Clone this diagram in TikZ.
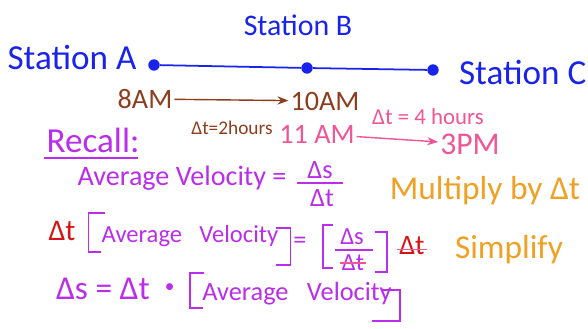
\documentclass[tikz,border=0pt]{standalone}
\usepackage{fontspec}
\setmainfont{Carlito}
\usepackage{xcolor}
\usetikzlibrary{positioning,arrows.meta,calc}

\definecolor{inkblue}{RGB}{25,35,235}
\definecolor{inkbrown}{RGB}{140,62,30}
\definecolor{inkpink}{RGB}{240,85,150}
\definecolor{inkpurple}{RGB}{185,45,235}
\definecolor{inkorange}{RGB}{240,160,35}
\definecolor{inkred}{RGB}{215,20,20}

\begin{document}
\begin{tikzpicture}[x=0.02cm, y=-0.02cm,
  hand/.style={inner sep=1pt, font=\fontsize{#1}{#1}\selectfont},
  hand/.default=15,
  stn/.style={hand=#1, text=inkblue},
  dot/.style={circle, fill=inkblue, inner sep=0pt, minimum size=6.5pt},
  arr/.style={-{Stealth[length=2.2mm]}, line width=0.8pt},
  brk/.style={draw=inkpurple, line width=1pt},
  bar/.style={line width=0.9pt},
]
  \useasboundingbox (0,0) rectangle (588,328);

  % the line with three stations
  \node[dot] (dA) at (154,65) {};
  \node[dot] (dB) at (307,68) {};
  \node[dot] (dC) at (433,70) {};
  \draw[inkblue, line width=1pt] (dA) -- (dB) -- (dC);
  \node[stn=20] (stA) at (72,57) {Station A};
  \node[stn=17] (stB) at (298,25) {Station B};
  \node[stn=20, anchor=west] (stC) at (457,72) {Station C};

  % times
  \node[hand=16, text=inkbrown] (t8) at (145,99) {8AM};
  \node[hand=16, text=inkbrown] (t10) at (325,101) {10AM};
  \draw[arr, inkbrown] (t8) -- (t10);
  \node[hand=11, text=inkbrown] (dt2) at (232,128) {Δt=2hours};
  \node[hand=16, text=inkpink] (t11) at (317,134) {11 AM};
  \node[hand=18, text=inkpink] (t3) at (470,144) {3PM};
  \draw[arr, inkpink] (t11) -- (t3);
  \node[hand=13, text=inkpink] (dt4) at (428,117) {Δt = 4 hours};

  % recall
  \node[hand=20, text=inkpurple] (rec) at (93,140) {Recall:};
  \draw[bar, inkpurple] ([xshift=0pt,yshift=-2pt]rec.south west) -- ([xshift=-2pt,yshift=-2pt]rec.south east);
  \node[hand=16, text=inkpurple] (avg) at (182,178) {Average Velocity =};
  \node[hand=15, text=inkpurple] (ds1) at (320,170) {Δs};
  \node[hand=15, text=inkpurple] (dt1) at (322,198) {Δt};
  \draw[bar, inkpurple] (297,183) -- (343,183);
  \node[hand=19, text=inkorange] (mul) at (485,191) {Multiply by Δt};

  % multiplied through
  \node[hand=17, text=inkred] (dtL) at (62,231) {Δt};
  \node[hand=14, text=inkpurple] (av2) at (190,236) {Average\hspace{0.7em}Velocity};
  \draw[brk] ($(av2.west)+(5,-23)$) -- ($(av2.west)+(-11,-23)$)
    -- ($(av2.west)+(-11,16)$) -- ++(12,0);
  \draw[brk] ($(av2.east)+(-4,-8)$) -- ($(av2.east)+(10,-8)$)
    -- ($(av2.east)+(10,29)$) -- ++(-14,0);
  \node[hand=15, text=inkpurple] (eq2) at (300,243) {=};
  \node[hand=14, text=inkpurple] (ds2) at (352,237) {Δs};
  \node[hand=14, text=inkpurple] (dt3) at (353,263) {Δt};
  \draw[bar, inkpurple] (335,250) -- (373,250);
  \draw[brk] (333,225) -- (323,225) -- (323,268) -- (333,268);
  \draw[brk] (375,232) -- (387,232) -- (387,272) -- (375,272);
  \draw[bar, inkpink] (dt3.west) -- (dt3.east);
  \node[hand=16, text=inkred] (dtR) at (412,246) {Δt};
  \draw[bar, inkpink] ([yshift=-2pt]dtR.west) -- ([yshift=-2pt]dtR.east);
  \node[hand=19, text=inkorange] (simp) at (509,250) {Simplify};

  % result
  \node[hand=19, text=inkpurple, anchor=west] (res) at (54,289)
    {Δs = Δt\hspace{0.45em}\raisebox{0.22em}{\fontsize{11}{11}\selectfont •}};
  \node[hand=15, text=inkpurple] (av3) at (297,294) {Average\hspace{0.7em}Velocity};
  \draw[brk] ($(av3.west)+(4,-21)$) -- ($(av3.west)+(-10,-21)$)
    -- ($(av3.west)+(-10,14)$) -- ++(13,0);
  \draw[brk] ($(av3.east)+(-13,-4)$) -- ($(av3.east)+(6,-4)$)
    -- ($(av3.east)+(6,27)$) -- ++(-28,0);
\end{tikzpicture}
\end{document}
